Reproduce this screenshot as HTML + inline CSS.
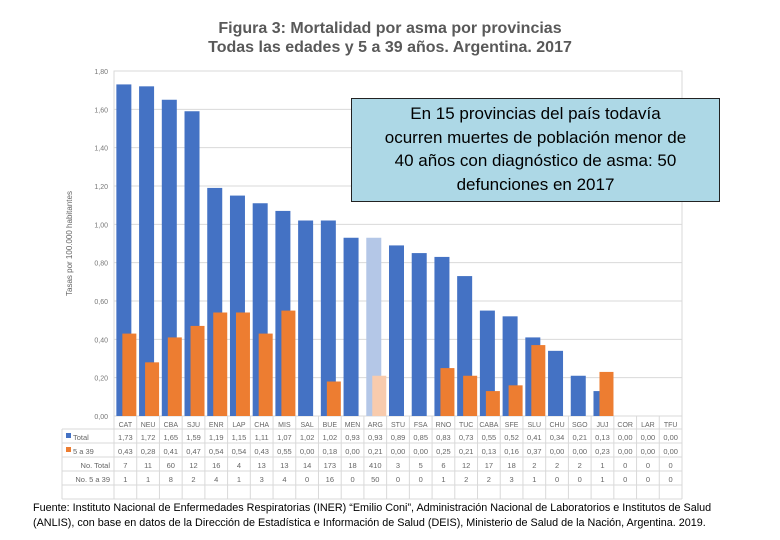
<!DOCTYPE html>
<html><head><meta charset="utf-8"><style>
body{margin:0;background:#fff;width:780px;height:540px;overflow:hidden;font-family:"Liberation Sans",sans-serif;}
.t{position:absolute;left:0;width:780px;text-align:center;font-weight:bold;color:#595959;font-size:16px;}
#note{position:absolute;left:351px;top:98px;width:369px;height:104px;background:#add8e6;border:1px solid #222;font-size:17px;text-align:center;line-height:23.5px;color:#000;box-sizing:border-box;padding-top:3px;white-space:nowrap;}
.fn{position:absolute;left:33px;font-size:10.8px;color:#000;white-space:nowrap;}
</style></head><body>
<div class="t" style="top:20px">Figura 3: Mortalidad por asma por provincias</div>
<div class="t" style="top:39px">Todas las edades y 5 a 39 años. Argentina. 2017</div>
<svg id="c" width="780" height="540" style="position:absolute;left:0;top:0"></svg>
<div id="note">En 15 provincias del país todavía<br>ocurren muertes de población menor de<br>40 años con diagnóstico de asma: 50<br>defunciones en 2017</div>
<div class="fn" style="top:502px">Fuente: Instituto Nacional de Enfermedades Respiratorias (INER) “Emilio Coni”, Administración Nacional de Laboratorios e Institutos de Salud</div>
<div class="fn" style="top:517px">(ANLIS), con base en datos de la Dirección de Estadística e Información de Salud (DEIS), Ministerio de Salud de la Nación, Argentina. 2019.</div>
<script>
const categories=["CAT","NEU","CBA","SJU","ENR","LAP","CHA","MIS","SAL","BUE","MEN","ARG","STU","FSA","RNO","TUC","CABA","SFE","SLU","CHU","SGO","JUJ","COR","LAR","TFU"];
const totalRates=[1.73,1.72,1.65,1.59,1.19,1.15,1.11,1.07,1.02,1.02,0.93,0.93,0.89,0.85,0.83,0.73,0.55,0.52,0.41,0.34,0.21,0.13,0,0,0];
const youngRates=[0.43,0.28,0.41,0.47,0.54,0.54,0.43,0.55,0,0.18,0,0.21,0,0,0.25,0.21,0.13,0.16,0.37,0,0,0.23,0,0,0];
const totalCounts=[7,11,60,12,16,4,13,13,14,173,18,410,3,5,6,12,17,18,2,2,2,1,0,0,0];
const youngCounts=[1,1,8,2,4,1,3,4,0,16,0,50,0,0,1,2,2,3,1,0,0,1,0,0,0];
const yTicks=[0,0.2,0.4,0.6,0.8,1.0,1.2,1.4,1.6,1.8];
const svg=document.getElementById('c'),NS="http://www.w3.org/2000/svg";
const L=114,R=682,Y0=416,Y1=71,YMAX=1.8;
const bw=(R-L)/categories.length;
const y=v=>Y0-(v/YMAX)*(Y0-Y1);
const cx=i=>L+bw*(i+0.5);
const fmt=v=>v.toFixed(2).replace('.',',');
function el(t,a,txt){const e=document.createElementNS(NS,t);for(const k in a)e.setAttribute(k,a[k]);if(txt!==undefined)e.textContent=txt;svg.appendChild(e);return e;}
yTicks.forEach(t=>{
 const g=el('line',{x1:L,x2:R,y1:y(t),y2:y(t),stroke:'#d9d9d9','stroke-width':1});
 
 const tx=el('text',{x:L-6,y:y(t)+3,'text-anchor':'end','font-size':7,fill:'#777'},fmt(t));
 
});
el('rect',{x:L,y:Y1,width:R-L,height:Y0-Y1,fill:'none',stroke:'#d9d9d9'});
const yt=el('text',{x:72,y:(Y0+Y1)/2,'text-anchor':'middle','font-size':8,fill:'#666',transform:`rotate(-90 72 ${(Y0+Y1)/2})`},'Tasas por 100.000 habitantes');

categories.forEach((c,i)=>{
 const arg=c==='ARG';
 const b=el('rect',{x:cx(i)-9,y:y(totalRates[i]),width:15,height:Y0-y(totalRates[i]),fill:arg?'#b4c7e7':'#4472c4'});
 
 const o=el('rect',{x:cx(i)-3,y:y(youngRates[i]),width:14,height:Y0-y(youngRates[i]),fill:arg?'#f8cbad':'#ed7d31'});
 
});
const TL=62;
[429,443,457,471,485,499].forEach(yy=>{const ln=el('line',{x1:TL,x2:R,y1:yy,y2:yy,stroke:'#d9d9d9'});});
el('line',{x1:TL,x2:TL,y1:429,y2:499,stroke:'#d9d9d9'});
for(let i=0;i<=categories.length;i++){el('line',{x1:L+bw*i,x2:L+bw*i,y1:416,y2:499,stroke:'#d9d9d9'});}
const lys=[439,453,467,481,495];
el('rect',{x:66,y:433,width:5,height:5,fill:'#4472c4'});
el('rect',{x:66,y:447,width:5,height:5,fill:'#ed7d31'});
[["Total",73,'start'],["5 a 39",73,'start'],["No. Total",110,'end'],["No. 5 a 39",110,'end']].forEach((a,k)=>{
 const t=el('text',{x:a[1],y:lys[k]+1,'text-anchor':a[2],'font-size':7.5,fill:'#666'},a[0]);
 
});
categories.forEach((c,i)=>{
 const t=el('text',{x:cx(i),y:427,'text-anchor':'middle','font-size':7,fill:'#666'},c);
 
 [fmt(totalRates[i]),fmt(youngRates[i]),totalCounts[i],youngCounts[i]].forEach((v,k)=>{
  const tt=el('text',{x:cx(i),y:lys[k]+1,'text-anchor':'middle','font-size':7.5,fill:'#666'},v);
  
 });
});
</script>
</body></html>
